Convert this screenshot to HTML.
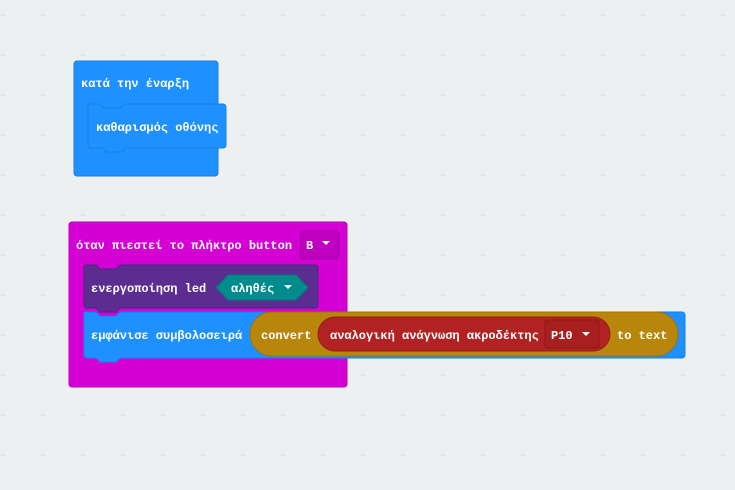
<!DOCTYPE html>
<html><head><meta charset="utf-8"><style>
html,body{margin:0;padding:0;background:#ecf0f1;}
svg{display:block}
text{font-family:"Liberation Mono",monospace;font-weight:bold;font-size:12px;fill:#fff}
</style></head><body>
<svg width="735" height="490" xmlns="http://www.w3.org/2000/svg">
<defs>
<pattern id="g" x="0" y="0" width="40" height="40" patternUnits="userSpaceOnUse">
<path d="M3 13v5M0.5 15.5h5" stroke="#e0e4e5" stroke-width="1"/>
</pattern>
</defs>
<rect width="735" height="490" fill="#ecf0f1"/>
<rect width="735" height="490" fill="url(#g)"/>

<!-- block 1 -->
<rect x="74" y="61" width="144" height="115" rx="3" fill="#1e90ff" stroke="#1a7fe0"/>
<path d="M88 107 a3 3 0 0 1 3 -3 h9 l4 4 h16 l4 -4 h99 a3 3 0 0 1 3 3 v38 a3 3 0 0 1 -3 3 h-97 l-4 4 h-16 l-4 -4 h-11 a3 3 0 0 1 -3 -3z" fill="#1e90ff" stroke="#1a7fe0"/>
<text x="81" y="87">κατά την έναρξη</text>
<text x="96" y="131">καθαρισμός οθόνης</text>

<!-- block 2 -->
<rect x="69" y="222" width="278" height="165" rx="3" fill="#d400d4" stroke="#b400b4"/>
<rect x="300" y="231" width="39" height="28" rx="3" fill="#c000c0" stroke="#a800a8"/>
<text x="76" y="249">όταν πιεστεί το πλήκτρο button</text>
<text x="306" y="249">B</text>
<path d="M322 241h8l-4 4z" fill="#fff"/>

<!-- led -->
<path d="M84 268 a3 3 0 0 1 3 -3 h9 l4 4 h16 l4 -4 h195 a3 3 0 0 1 3 3 v37 a3 3 0 0 1 -3 3 h-195 l-4 4 h-16 l-4 -4 h-9 a3 3 0 0 1 -3 -3z" fill="#5c2d91" stroke="#4d2580"/>
<text x="91" y="292">ενεργοποίηση led</text>
<path d="M228 275 h68 l12 12.5 l-12 12.5 h-68 l-12 -12.5z" fill="#008c8c" stroke="#007878"/>
<text x="231" y="292">αληθές</text>
<path d="M284 285h8l-4 4z" fill="#fff"/>

<!-- show string -->
<path d="M84 312 h12 l4 4 h16 l4 -4 h562 a3 3 0 0 1 3 3 v40 a3 3 0 0 1 -3 3 h-562 l-4 4 h-16 l-4 -4 h-9 a3 3 0 0 1 -3 -3v-40z" fill="#1e90ff" stroke="#1a7fe0"/>
<text x="91" y="339">εμφάνισε συμβολοσειρά</text>
<rect x="250" y="312" width="428" height="44" rx="22" fill="#b8860b" stroke="#a07408"/>
<text x="261" y="339">convert</text>
<rect x="318" y="317" width="292" height="34" rx="17" fill="#b22222" stroke="#9a1c1c"/>
<text x="330" y="339">αναλογική ανάγνωση ακροδέκτης</text>
<rect x="545" y="320" width="54" height="28" rx="3" fill="#a81f1f" stroke="#8f1818"/>
<text x="551" y="339">P10</text>
<path d="M582 332h8l-4 4z" fill="#fff"/>
<text x="617" y="339">to text</text>
</svg>
</body></html>
